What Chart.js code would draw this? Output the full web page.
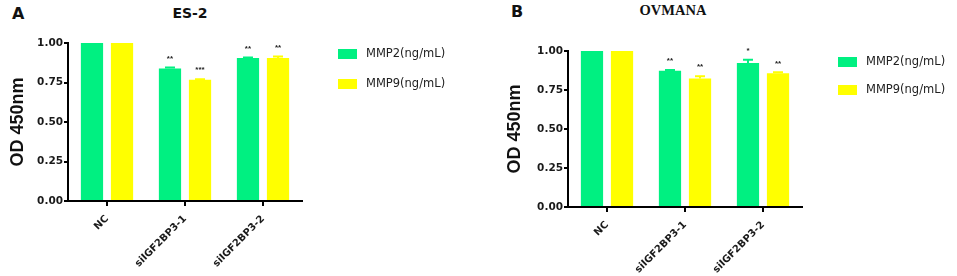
<!DOCTYPE html>
<html>
<head>
<meta charset="utf-8">
<script src="https://cdn.jsdelivr.net/npm/chart.js@4/dist/chart.umd.min.js"></script>
<style>
  body { margin: 0; background: #fff; width: 957px; height: 276px; position: relative; overflow: hidden; }
  canvas { position: absolute; top: 0; }
  .lbl { position: absolute; line-height: 1; color: #111; white-space: nowrap; }
</style>
</head>
<body>
<div class="lbl" style="left:12px; top:4px; font:bold 16px 'DejaVu Sans';">A</div>
<div class="lbl" style="left:140px; top:5px; width:100px; text-align:center; font:bold 14px 'DejaVu Sans';">ES-2</div>
<div class="lbl" style="left:511px; top:2px; font:bold 16px 'DejaVu Sans';">B</div>
<div class="lbl" style="left:623px; top:2px; width:100px; text-align:center; font:bold 14.5px 'Liberation Serif';">OVMANA</div>
<canvas id="chartA" width="478" height="276" style="left:0px"></canvas>
<canvas id="chartB" width="479" height="276" style="left:478px"></canvas>
<script>
// --- DATA ---
const categories = ['NC', 'siIGF2BP3-1', 'siIGF2BP3-2'];
const yTicks = [0, 0.25, 0.5, 0.75, 1.0];
const seriesNames = ['MMP2(ng/mL)', 'MMP9(ng/mL)'];

// ES-2
const es2Mmp2 = [1.0, 0.838, 0.905];
const es2Mmp2Err = [0, 0.007, 0.004];
const es2Mmp2Stars = ['', '**', '**'];
const es2Mmp9 = [1.0, 0.768, 0.905];
const es2Mmp9Err = [0, 0.003, 0.009];
const es2Mmp9Stars = ['', '***', '**'];

// OVMANA
const ovMmp2 = [1.0, 0.874, 0.923];
const ovMmp2Err = [0, 0.004, 0.021];
const ovMmp2Stars = ['', '**', '*'];
const ovMmp9 = [1.0, 0.823, 0.858];
const ovMmp9Err = [0, 0.015, 0.005];
const ovMmp9Stars = ['', '**', '**'];

const GREEN = '#00f081';
const YELLOW = '#ffff00';

// --- PLUGINS ---
// error bars + significance stars above each bar
const barExtras = {
    id: 'barExtras',
    afterDatasetsDraw(chart) {
        const ctx = chart.ctx;
        const y = chart.scales.y;
        chart.data.datasets.forEach((ds, i) => {
            chart.getDatasetMeta(i).data.forEach((bar, j) => {
                const err = ds.errors[j];
                const top = y.getPixelForValue(ds.data[j] + err);
                ctx.save();
                if (err > 0) {
                    ctx.strokeStyle = ds.backgroundColor;
                    ctx.lineWidth = 2;
                    ctx.beginPath();
                    ctx.moveTo(bar.x, bar.y);
                    ctx.lineTo(bar.x, top);
                    ctx.moveTo(bar.x - 5, top);
                    ctx.lineTo(bar.x + 5, top);
                    ctx.stroke();
                }
                if (ds.stars[j]) {
                    ctx.fillStyle = '#222';
                    ctx.font = 'bold 8px "Liberation Sans"';
                    ctx.textAlign = 'center';
                    ctx.textBaseline = 'middle';
                    ctx.fillText(ds.stars[j], bar.x, top - 9);
                }
                ctx.restore();
            });
        });
    }
};

// legend to the right of the plot
const sideLegend = {
    id: 'sideLegend',
    afterDraw(chart, args, opts) {
        const ctx = chart.ctx;
        ctx.save();
        ctx.font = '11.5px "DejaVu Sans"';
        ctx.textBaseline = 'middle';
        chart.data.datasets.forEach((ds, i) => {
            const top = opts.y + i * opts.step;
            ctx.fillStyle = ds.backgroundColor;
            ctx.fillRect(opts.x, top, 19, 10);
            ctx.fillStyle = '#222';
            ctx.fillText(ds.label, opts.x + 28, top + 5);
        });
        ctx.restore();
    }
};

// --- CHART BUILDER ---
function makeChart(id, mmp2, mmp2Err, mmp2Stars, mmp9, mmp9Err, mmp9Stars, lay) {
    return new Chart(document.getElementById(id), {
        type: 'bar',
        data: {
            labels: categories,
            datasets: [
                { label: seriesNames[0], data: mmp2, errors: mmp2Err, stars: mmp2Stars, backgroundColor: GREEN,
                  categoryPercentage: 0.77, barPercentage: 0.74 },
                { label: seriesNames[1], data: mmp9, errors: mmp9Err, stars: mmp9Stars, backgroundColor: YELLOW,
                  categoryPercentage: 0.77, barPercentage: 0.74 }
            ]
        },
        options: {
            responsive: false,
            animation: false,
            devicePixelRatio: 1,
            layout: { padding: { top: lay.top, right: lay.right, bottom: 0, left: 0 } },
            plugins: {
                legend: { display: false },
                tooltip: { enabled: false },
                sideLegend: { x: lay.legX, y: lay.legY, step: lay.legStep }
            },
            scales: {
                x: {
                    offset: true,
                    grid: { offset: false, drawOnChartArea: false, color: '#000', lineWidth: 2, tickLength: 5 },
                    border: { color: '#000', width: 2 },
                    ticks: {
                        autoSkip: false, maxRotation: 45, minRotation: 45, padding: 7,
                        color: '#1a1a1a', font: { family: 'DejaVu Sans', weight: 'bold', size: 10 }
                    },
                    afterFit(scale) { scale.height = lay.xHeight; }
                },
                y: {
                    min: 0, max: 1,
                    afterBuildTicks(scale) { scale.ticks = yTicks.map(v => ({ value: v })); },
                    grid: { drawOnChartArea: false, color: '#000', lineWidth: 2, tickLength: 4 },
                    border: { color: '#000', width: 2 },
                    ticks: {
                        padding: 1, color: '#1a1a1a',
                        font: { family: 'DejaVu Sans', weight: 'bold', size: 10.5 },
                        callback: v => v.toFixed(2)
                    },
                    title: {
                        display: true, text: 'OD 450nm', color: '#111',
                        font: { family: 'Liberation Sans', weight: 'bold', size: 18 },
                        padding: { top: lay.titlePad, bottom: 0 }
                    },
                    afterFit(scale) { scale.width = lay.yWidth; }
                }
            }
        },
        plugins: [barExtras, sideLegend]
    });
}

makeChart('chartA', es2Mmp2, es2Mmp2Err, es2Mmp2Stars, es2Mmp9, es2Mmp9Err, es2Mmp9Stars,
    { top: 43, right: 176, xHeight: 75, yWidth: 68, titlePad: 7.5, legX: 338, legY: 49, legStep: 30 });
makeChart('chartB', ovMmp2, ovMmp2Err, ovMmp2Stars, ovMmp9, ovMmp9Err, ovMmp9Stars,
    { top: 51, right: 155, xHeight: 69, yWidth: 90, titlePad: 26.5, legX: 360, legY: 57, legStep: 28 });
</script>
</body>
</html>
